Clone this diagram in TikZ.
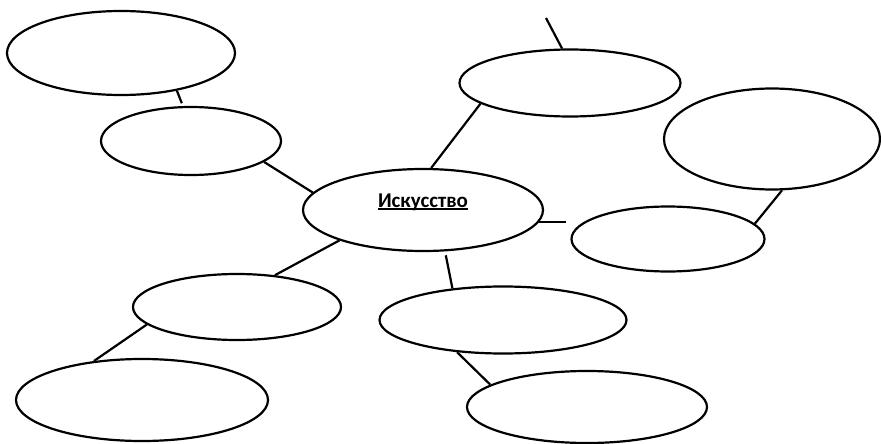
\documentclass[tikz,border=0pt]{standalone}
\usepackage{fontspec}
\setmainfont{Carlito}
\usetikzlibrary{shapes,positioning}
\newcommand{\ulword}[1]{\setbox0\hbox{#1}\rlap{\vrule height -1.3pt depth 3.3pt width \wd0}\box0}

\begin{document}
\begin{tikzpicture}[x=1pt, y=-1pt, line width=2.2pt, on grid,
	oval/.style={ellipse, draw, inner sep=0pt}]
	\useasboundingbox (0,0) rectangle (881,444);

	\node[oval, minimum width=240pt, minimum height=82pt, font=\bfseries\fontsize{21}{25}\selectfont, text height=15pt, text depth=21pt] (c) at (423,210) {\ulword{Искусство}};
	\node[oval, minimum width=228pt, minimum height=84pt, above left=157pt and 302pt of c] (e1) {};
	\node[oval, minimum width=180pt, minimum height=68pt, above left=69pt and 232pt of c] (e2) {};
	\node[oval, minimum width=221pt, minimum height=67pt, above right=127pt and 147pt of c] (e3) {};
	\node[oval, minimum width=216pt, minimum height=101pt, above right=71pt and 349pt of c] (e4) {};
	\node[oval, minimum width=193pt, minimum height=65pt, below right=29pt and 245pt of c] (e5) {};
	\node[oval, minimum width=208pt, minimum height=66pt, below left=97pt and 186pt of c] (e6) {};
	\node[oval, minimum width=252pt, minimum height=82pt, below left=190pt and 281pt of c] (e7) {};
	\node[oval, minimum width=247pt, minimum height=67pt, below right=110pt and 80pt of c] (e8) {};
	\node[oval, minimum width=240pt, minimum height=72pt, below right=197pt and 164pt of c] (e9) {};
	\coordinate (top) at (546,18);

	\path
		(top) edge (e3.103)
		(e1.-34) edge[shorten >=3pt] (e2.103)
		(e2.-16) edge (c.171)
		(e3.193) edge (c.79)
		(e4.-79) edge (e5.10)
		(c.-6) edge[shorten >=4pt] (e5.west |- c.-6)
		(c.200) edge (e6.40)
		(e6.191) edge (e7.141)
		(c.-62) edge[shorten <=4pt] (e8.148)
		(e8.215) edge (e9.167);
\end{tikzpicture}
\end{document}
